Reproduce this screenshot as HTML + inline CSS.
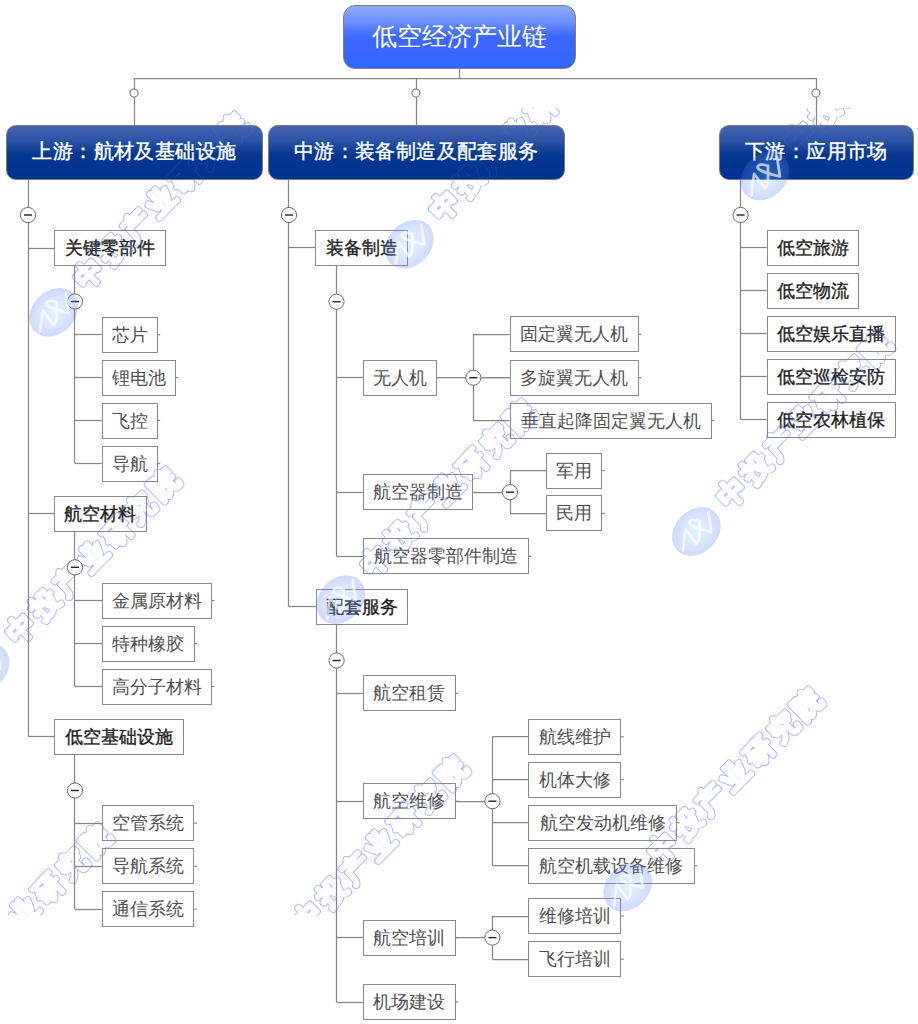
<!DOCTYPE html>
<html><head><meta charset="utf-8"><title>低空经济产业链</title>
<style>
html,body{margin:0;padding:0;background:#fff;}
body{width:918px;height:1024px;position:relative;overflow:hidden;font-family:"Liberation Serif",serif;}
svg{position:absolute;left:0;top:0;}
.bx{position:absolute;box-sizing:border-box;border:1px solid #8a8a8a;background:#fff;display:flex;align-items:center;justify-content:center;white-space:nowrap;font-size:18px;color:#505050;line-height:1;}
.bx.b,.bx.bc{color:#1e1e1e;-webkit-text-stroke:0.35px #1e1e1e;}
.l1{position:absolute;box-sizing:border-box;border:1px solid #7a7a7a;border-radius:10px;display:flex;align-items:center;justify-content:center;white-space:nowrap;color:#fff;font-size:20px;-webkit-text-stroke:0.4px #fff;line-height:1;letter-spacing:0.4px;padding:0 0 2px 0.4px;
background:linear-gradient(to bottom,#4466b0 0%,#2f55a8 25%,#06368f 55%,#003391 100%);}
.root{position:absolute;box-sizing:border-box;border:1.5px solid #7f7f7f;border-radius:12px;display:flex;align-items:center;justify-content:center;white-space:nowrap;color:#fff;font-size:25px;line-height:1;
background:linear-gradient(to bottom,#8eabff 0%,#6d8fff 25%,#3d67ff 50%,#3366ff 100%);}
</style></head><body>

<svg width="918" height="1024" viewBox="0 0 918 1024"><g stroke="#878787" stroke-width="1.25" fill="none"><path d="M134 78.5L816 78.5"/><path d="M459.5 68.5L459.5 78"/><path d="M134.5 78L134.5 125"/><path d="M416.5 78L416.5 125"/><path d="M816.5 78L816.5 125"/><path d="M28.5 179L28.5 736.6"/><path d="M28 248.5L54 248.5"/><path d="M74.5 266L74.5 463.5"/><path d="M75 334.5L101.7 334.5"/><path d="M75 377.5L101.7 377.5"/><path d="M75 420.5L101.7 420.5"/><path d="M75 463.5L101.7 463.5"/><path d="M28 513.5L54 513.5"/><path d="M74.5 531.7L74.5 686.5"/><path d="M75 600.5L102 600.5"/><path d="M75 643.5L102 643.5"/><path d="M75 686.5L102 686.5"/><path d="M28 736.5L54 736.5"/><path d="M74.5 754.7L74.5 909.2"/><path d="M75 823.5L101.8 823.5"/><path d="M75 866.5L101.8 866.5"/><path d="M75 909.5L101.8 909.5"/><path d="M288.5 179L288.5 606.7"/><path d="M289 247.5L315.3 247.5"/><path d="M336.5 265.8L336.5 556.3"/><path d="M336.5 377.5L363 377.5"/><path d="M436.5 377.5L509.6 377.5"/><path d="M473.5 334.4L473.5 420.6"/><path d="M473.3 334.5L509.6 334.5"/><path d="M473.3 377.5L509.6 377.5"/><path d="M473.3 420.5L509.6 420.5"/><path d="M336.5 492.5L363 492.5"/><path d="M473.4 492.5L510 492.5"/><path d="M510.5 470.5L510.5 513.4"/><path d="M510 470.5L546.3 470.5"/><path d="M510 513.5L546.3 513.5"/><path d="M336.5 556.5L363 556.5"/><path d="M289 606.5L315.6 606.5"/><path d="M336.5 624.7L336.5 1002"/><path d="M336.6 693.5L363 693.5"/><path d="M336.6 801.5L363 801.5"/><path d="M455.8 801.5L492.4 801.5"/><path d="M492.5 736.8L492.5 865.7"/><path d="M492.4 736.5L528.3 736.5"/><path d="M492.4 779.5L528.3 779.5"/><path d="M492.4 822.5L528.3 822.5"/><path d="M492.4 865.5L528.3 865.5"/><path d="M336.6 937.5L363 937.5"/><path d="M455.8 937.5L492.4 937.5"/><path d="M492.5 916L492.5 959.2"/><path d="M492.4 916.5L528.3 916.5"/><path d="M492.4 959.5L528.3 959.5"/><path d="M336.6 1002.5L363 1002.5"/><path d="M740.5 179L740.5 419.6"/><path d="M740.6 247.5L766.7 247.5"/><path d="M740.6 290.5L766.7 290.5"/><path d="M740.6 333.5L766.7 333.5"/><path d="M740.6 376.5L766.7 376.5"/><path d="M740.6 419.5L766.7 419.5"/><path d="M157.7 334.6h2.5"/><path d="M175.7 377.6h2.5"/><path d="M157.7 420.5h2.5"/><path d="M157.7 463.5h2.5"/><path d="M212 600.5h2.5"/><path d="M194.5 643.6h2.5"/><path d="M212 686.5h2.5"/><path d="M194.3 823.2h2.5"/><path d="M194.3 866.2h2.5"/><path d="M194.3 909.2h2.5"/><path d="M436.5 377.7h2.5"/><path d="M638.6 334.4h2.5"/><path d="M638.6 377.6h2.5"/><path d="M712.1 420.6h2.5"/><path d="M473.4 492.2h2.5"/><path d="M602.3 470.5h2.5"/><path d="M602.3 513.4h2.5"/><path d="M528.5 556.3h2.5"/><path d="M455.8 693.4h2.5"/><path d="M455.8 801.2h2.5"/><path d="M621.3 736.8h2.5"/><path d="M621.3 779.5h2.5"/><path d="M677 822.6h2.5"/><path d="M694.7 865.7h2.5"/><path d="M455.8 937.6h2.5"/><path d="M621.3 916h2.5"/><path d="M621.3 959.2h2.5"/><path d="M455.8 1002h2.5"/><circle cx="134" cy="93" r="4" fill="#fff"/><circle cx="416" cy="93" r="4" fill="#fff"/><circle cx="816" cy="93" r="4" fill="#fff"/></g></svg>
<div class="bx b" style="left:54px;top:230px;width:112px;height:36px">关键零部件</div>
<div class="bx n" style="left:101.7px;top:316.6px;width:56px;height:36px">芯片</div>
<div class="bx n" style="left:101.7px;top:359.6px;width:74px;height:36px">锂电池</div>
<div class="bx n" style="left:101.7px;top:402.5px;width:56px;height:36px">飞控</div>
<div class="bx n" style="left:101.7px;top:445.5px;width:56px;height:36px">导航</div>
<div class="bx b" style="left:54px;top:495.7px;width:92.5px;height:36px">航空材料</div>
<div class="bx n" style="left:102px;top:582.5px;width:110px;height:36px">金属原材料</div>
<div class="bx n" style="left:102px;top:625.6px;width:92.5px;height:36px">特种橡胶</div>
<div class="bx n" style="left:102px;top:668.5px;width:110px;height:36px">高分子材料</div>
<div class="bx b" style="left:54px;top:718.7px;width:129.7px;height:36px">低空基础设施</div>
<div class="bx n" style="left:101.8px;top:805.2px;width:92.5px;height:36px">空管系统</div>
<div class="bx n" style="left:101.8px;top:848.2px;width:92.5px;height:36px">导航系统</div>
<div class="bx n" style="left:101.8px;top:891.2px;width:92.5px;height:36px">通信系统</div>
<div class="bx b" style="left:315.3px;top:229.8px;width:92.8px;height:36px">装备制造</div>
<div class="bx n" style="left:363px;top:359.7px;width:73.5px;height:36px">无人机</div>
<div class="bx n" style="left:509.6px;top:316.4px;width:129px;height:36px">固定翼无人机</div>
<div class="bx n" style="left:509.6px;top:359.6px;width:129px;height:36px">多旋翼无人机</div>
<div class="bx n" style="left:509.6px;top:402.6px;width:202.5px;height:36px">垂直起降固定翼无人机</div>
<div class="bx n" style="left:363px;top:474.2px;width:110.4px;height:36px">航空器制造</div>
<div class="bx n" style="left:546.3px;top:452.5px;width:56px;height:36px">军用</div>
<div class="bx n" style="left:546.3px;top:495.4px;width:56px;height:36px">民用</div>
<div class="bx n" style="left:363px;top:538.3px;width:165.5px;height:36px">航空器零部件制造</div>
<div class="bx b" style="left:315.6px;top:588.7px;width:92.5px;height:36px">配套服务</div>
<div class="bx n" style="left:363px;top:675.4px;width:92.8px;height:36px">航空租赁</div>
<div class="bx n" style="left:363px;top:783.2px;width:92.8px;height:36px">航空维修</div>
<div class="bx n" style="left:528.3px;top:718.8px;width:93px;height:36px">航线维护</div>
<div class="bx n" style="left:528.3px;top:761.5px;width:93px;height:36px">机体大修</div>
<div class="bx n" style="left:528.3px;top:804.6px;width:148.7px;height:36px">航空发动机维修</div>
<div class="bx n" style="left:528.3px;top:847.7px;width:166.4px;height:36px">航空机载设备维修</div>
<div class="bx n" style="left:363px;top:919.6px;width:92.8px;height:36px">航空培训</div>
<div class="bx n" style="left:528.3px;top:898px;width:93px;height:36px">维修培训</div>
<div class="bx n" style="left:528.3px;top:941.2px;width:93px;height:36px">飞行培训</div>
<div class="bx n" style="left:363px;top:984px;width:92.8px;height:36px">机场建设</div>
<div class="bx bc" style="left:766.7px;top:229.6px;width:92.5px;height:36px">低空旅游</div>
<div class="bx bc" style="left:766.7px;top:272.7px;width:92.5px;height:36px">低空物流</div>
<div class="bx bc" style="left:766.7px;top:315.7px;width:129px;height:36px">低空娱乐直播</div>
<div class="bx bc" style="left:766.7px;top:358.7px;width:129px;height:36px">低空巡检安防</div>
<div class="bx bc" style="left:766.7px;top:401.6px;width:129px;height:36px">低空农林植保</div>
<svg width="918" height="1024" viewBox="0 0 918 1024"><defs><radialGradient id="lg" cx="50%" cy="50%" r="50%"><stop offset="0" stop-color="rgb(135,212,255)" stop-opacity="0.26"/><stop offset="0.6" stop-color="rgb(110,160,248)" stop-opacity="0.26"/><stop offset="1" stop-color="rgb(80,115,240)" stop-opacity="0.27"/></radialGradient><clipPath id="cp"><rect x="0" y="108" width="918" height="807.5"/></clipPath><mask id="wm" maskUnits="userSpaceOnUse" x="0" y="0" width="918" height="1024"><rect x="0" y="0" width="918" height="1024" fill="#000"/><g transform="translate(88.2 273.9) rotate(-45)" font-family="Liberation Sans" font-weight="bold" font-size="28" letter-spacing="5.9"><text x="-12.6" y="9.8" fill="#fff" stroke="#fff" stroke-width="5" stroke-linejoin="round">中投产业研究院</text><text x="-12.6" y="9.8" fill="#000" stroke="#000" stroke-width="3.4" stroke-linejoin="round">中投产业研究院</text></g><g transform="translate(443.85 205.7) rotate(-45)" font-family="Liberation Sans" font-weight="bold" font-size="28" letter-spacing="5.9"><text x="-12.6" y="9.8" fill="#fff" stroke="#fff" stroke-width="5" stroke-linejoin="round">中投产业研究院</text><text x="-12.6" y="9.8" fill="#000" stroke="#000" stroke-width="3.4" stroke-linejoin="round">中投产业研究院</text></g><g transform="translate(799.5 137.5) rotate(-45)" font-family="Liberation Sans" font-weight="bold" font-size="28" letter-spacing="5.9"><text x="-12.6" y="9.8" fill="#fff" stroke="#fff" stroke-width="5" stroke-linejoin="round">中投产业研究院</text><text x="-12.6" y="9.8" fill="#000" stroke="#000" stroke-width="3.4" stroke-linejoin="round">中投产业研究院</text></g><g transform="translate(19.6 629.4) rotate(-45)" font-family="Liberation Sans" font-weight="bold" font-size="28" letter-spacing="5.9"><text x="-12.6" y="9.8" fill="#fff" stroke="#fff" stroke-width="5" stroke-linejoin="round">中投产业研究院</text><text x="-12.6" y="9.8" fill="#000" stroke="#000" stroke-width="3.4" stroke-linejoin="round">中投产业研究院</text></g><g transform="translate(375.25 561.2) rotate(-45)" font-family="Liberation Sans" font-weight="bold" font-size="28" letter-spacing="5.9"><text x="-12.6" y="9.8" fill="#fff" stroke="#fff" stroke-width="5" stroke-linejoin="round">中投产业研究院</text><text x="-12.6" y="9.8" fill="#000" stroke="#000" stroke-width="3.4" stroke-linejoin="round">中投产业研究院</text></g><g transform="translate(730.9 493) rotate(-45)" font-family="Liberation Sans" font-weight="bold" font-size="28" letter-spacing="5.9"><text x="-12.6" y="9.8" fill="#fff" stroke="#fff" stroke-width="5" stroke-linejoin="round">中投产业研究院</text><text x="-12.6" y="9.8" fill="#000" stroke="#000" stroke-width="3.4" stroke-linejoin="round">中投产业研究院</text></g><g transform="translate(-49 984.9) rotate(-45)" font-family="Liberation Sans" font-weight="bold" font-size="28" letter-spacing="5.9"><text x="-12.6" y="9.8" fill="#fff" stroke="#fff" stroke-width="5" stroke-linejoin="round">中投产业研究院</text><text x="-12.6" y="9.8" fill="#000" stroke="#000" stroke-width="3.4" stroke-linejoin="round">中投产业研究院</text></g><g transform="translate(306.65 916.7) rotate(-45)" font-family="Liberation Sans" font-weight="bold" font-size="28" letter-spacing="5.9"><text x="-12.6" y="9.8" fill="#fff" stroke="#fff" stroke-width="5" stroke-linejoin="round">中投产业研究院</text><text x="-12.6" y="9.8" fill="#000" stroke="#000" stroke-width="3.4" stroke-linejoin="round">中投产业研究院</text></g><g transform="translate(662.3 848.5) rotate(-45)" font-family="Liberation Sans" font-weight="bold" font-size="28" letter-spacing="5.9"><text x="-12.6" y="9.8" fill="#fff" stroke="#fff" stroke-width="5" stroke-linejoin="round">中投产业研究院</text><text x="-12.6" y="9.8" fill="#000" stroke="#000" stroke-width="3.4" stroke-linejoin="round">中投产业研究院</text></g></mask></defs><rect x="0" y="0" width="918" height="1024" fill="rgb(100,120,240)" fill-opacity="0.44" mask="url(#wm)" clip-path="url(#cp)"/></svg>
<div class="root" style="left:343px;top:4.8px;width:233px;height:64px">低空经济产业链</div>
<div class="l1" style="left:6px;top:125px;width:256.5px;height:54.5px">上游：航材及基础设施</div>
<div class="l1" style="left:267.5px;top:125px;width:297px;height:54.5px">中游：装备制造及配套服务</div>
<div class="l1" style="left:718.5px;top:125px;width:195.5px;height:54.5px">下游：应用市场</div>
<svg width="918" height="1024" viewBox="0 0 918 1024"><circle cx="28" cy="215" r="7.6" fill="#fff" stroke="#6f6f6f" stroke-width="1"/><path d="M24 215h8" stroke="#222" stroke-width="1.4"/><circle cx="75" cy="301.5" r="7.6" fill="#fff" stroke="#6f6f6f" stroke-width="1"/><path d="M71 301.5h8" stroke="#222" stroke-width="1.4"/><circle cx="75" cy="567.3" r="7.6" fill="#fff" stroke="#6f6f6f" stroke-width="1"/><path d="M71 567.3h8" stroke="#222" stroke-width="1.4"/><circle cx="75" cy="790.5" r="7.6" fill="#fff" stroke="#6f6f6f" stroke-width="1"/><path d="M71 790.5h8" stroke="#222" stroke-width="1.4"/><circle cx="289" cy="215" r="7.6" fill="#fff" stroke="#6f6f6f" stroke-width="1"/><path d="M285 215h8" stroke="#222" stroke-width="1.4"/><circle cx="336.5" cy="301.7" r="7.6" fill="#fff" stroke="#6f6f6f" stroke-width="1"/><path d="M332.5 301.7h8" stroke="#222" stroke-width="1.4"/><circle cx="473.3" cy="377.7" r="7.6" fill="#fff" stroke="#6f6f6f" stroke-width="1"/><path d="M469.3 377.7h8" stroke="#222" stroke-width="1.4"/><circle cx="510" cy="492.2" r="7.6" fill="#fff" stroke="#6f6f6f" stroke-width="1"/><path d="M506 492.2h8" stroke="#222" stroke-width="1.4"/><circle cx="336.6" cy="660.5" r="7.6" fill="#fff" stroke="#6f6f6f" stroke-width="1"/><path d="M332.6 660.5h8" stroke="#222" stroke-width="1.4"/><circle cx="492.4" cy="801.2" r="7.6" fill="#fff" stroke="#6f6f6f" stroke-width="1"/><path d="M488.4 801.2h8" stroke="#222" stroke-width="1.4"/><circle cx="492.4" cy="937.6" r="7.6" fill="#fff" stroke="#6f6f6f" stroke-width="1"/><path d="M488.4 937.6h8" stroke="#222" stroke-width="1.4"/><circle cx="740.6" cy="215" r="7.6" fill="#fff" stroke="#6f6f6f" stroke-width="1"/><path d="M736.6 215h8" stroke="#222" stroke-width="1.4"/></svg>
<svg width="918" height="1024" viewBox="0 0 918 1024"><g clip-path="url(#cp)"><rect x="0" y="0" width="918" height="1024" fill="rgb(100,120,240)" fill-opacity="0.2" mask="url(#wm)"/><g transform="translate(53.7 312.4)"><ellipse cx="0" cy="0" rx="27" ry="21.3" transform="rotate(-45)" fill="url(#lg)"/><path d="M-13.5 19C-12.6 9.4 -12 4.3 -10.8 -2L0 12.4C1.8 10.6 3 7 3 3.5L3 -10.3M3 -9.7C-1.2 -12.7 -8.4 -11.5 -7.2 -7.9C-6 -4.9 3.6 -2.5 14.9 0.5L12 -19.3" fill="none" stroke="#fff" stroke-opacity="0.65" stroke-width="2.8" stroke-linecap="round" stroke-linejoin="round"/></g><g transform="translate(409.35 244.2)"><ellipse cx="0" cy="0" rx="27" ry="21.3" transform="rotate(-45)" fill="url(#lg)"/><path d="M-13.5 19C-12.6 9.4 -12 4.3 -10.8 -2L0 12.4C1.8 10.6 3 7 3 3.5L3 -10.3M3 -9.7C-1.2 -12.7 -8.4 -11.5 -7.2 -7.9C-6 -4.9 3.6 -2.5 14.9 0.5L12 -19.3" fill="none" stroke="#fff" stroke-opacity="0.65" stroke-width="2.8" stroke-linecap="round" stroke-linejoin="round"/></g><g transform="translate(765 176)"><ellipse cx="0" cy="0" rx="27" ry="21.3" transform="rotate(-45)" fill="url(#lg)"/><path d="M-13.5 19C-12.6 9.4 -12 4.3 -10.8 -2L0 12.4C1.8 10.6 3 7 3 3.5L3 -10.3M3 -9.7C-1.2 -12.7 -8.4 -11.5 -7.2 -7.9C-6 -4.9 3.6 -2.5 14.9 0.5L12 -19.3" fill="none" stroke="#fff" stroke-opacity="0.65" stroke-width="2.8" stroke-linecap="round" stroke-linejoin="round"/></g><g transform="translate(-14.9 667.9)"><ellipse cx="0" cy="0" rx="27" ry="21.3" transform="rotate(-45)" fill="url(#lg)"/><path d="M-13.5 19C-12.6 9.4 -12 4.3 -10.8 -2L0 12.4C1.8 10.6 3 7 3 3.5L3 -10.3M3 -9.7C-1.2 -12.7 -8.4 -11.5 -7.2 -7.9C-6 -4.9 3.6 -2.5 14.9 0.5L12 -19.3" fill="none" stroke="#fff" stroke-opacity="0.65" stroke-width="2.8" stroke-linecap="round" stroke-linejoin="round"/></g><g transform="translate(340.75 599.7)"><ellipse cx="0" cy="0" rx="27" ry="21.3" transform="rotate(-45)" fill="url(#lg)"/><path d="M-13.5 19C-12.6 9.4 -12 4.3 -10.8 -2L0 12.4C1.8 10.6 3 7 3 3.5L3 -10.3M3 -9.7C-1.2 -12.7 -8.4 -11.5 -7.2 -7.9C-6 -4.9 3.6 -2.5 14.9 0.5L12 -19.3" fill="none" stroke="#fff" stroke-opacity="0.65" stroke-width="2.8" stroke-linecap="round" stroke-linejoin="round"/></g><g transform="translate(696.4 531.5)"><ellipse cx="0" cy="0" rx="27" ry="21.3" transform="rotate(-45)" fill="url(#lg)"/><path d="M-13.5 19C-12.6 9.4 -12 4.3 -10.8 -2L0 12.4C1.8 10.6 3 7 3 3.5L3 -10.3M3 -9.7C-1.2 -12.7 -8.4 -11.5 -7.2 -7.9C-6 -4.9 3.6 -2.5 14.9 0.5L12 -19.3" fill="none" stroke="#fff" stroke-opacity="0.65" stroke-width="2.8" stroke-linecap="round" stroke-linejoin="round"/></g><g transform="translate(-83.5 1023.4)"><ellipse cx="0" cy="0" rx="27" ry="21.3" transform="rotate(-45)" fill="url(#lg)"/><path d="M-13.5 19C-12.6 9.4 -12 4.3 -10.8 -2L0 12.4C1.8 10.6 3 7 3 3.5L3 -10.3M3 -9.7C-1.2 -12.7 -8.4 -11.5 -7.2 -7.9C-6 -4.9 3.6 -2.5 14.9 0.5L12 -19.3" fill="none" stroke="#fff" stroke-opacity="0.65" stroke-width="2.8" stroke-linecap="round" stroke-linejoin="round"/></g><g transform="translate(272.15 955.2)"><ellipse cx="0" cy="0" rx="27" ry="21.3" transform="rotate(-45)" fill="url(#lg)"/><path d="M-13.5 19C-12.6 9.4 -12 4.3 -10.8 -2L0 12.4C1.8 10.6 3 7 3 3.5L3 -10.3M3 -9.7C-1.2 -12.7 -8.4 -11.5 -7.2 -7.9C-6 -4.9 3.6 -2.5 14.9 0.5L12 -19.3" fill="none" stroke="#fff" stroke-opacity="0.65" stroke-width="2.8" stroke-linecap="round" stroke-linejoin="round"/></g><g transform="translate(627.8 887)"><ellipse cx="0" cy="0" rx="27" ry="21.3" transform="rotate(-45)" fill="url(#lg)"/><path d="M-13.5 19C-12.6 9.4 -12 4.3 -10.8 -2L0 12.4C1.8 10.6 3 7 3 3.5L3 -10.3M3 -9.7C-1.2 -12.7 -8.4 -11.5 -7.2 -7.9C-6 -4.9 3.6 -2.5 14.9 0.5L12 -19.3" fill="none" stroke="#fff" stroke-opacity="0.65" stroke-width="2.8" stroke-linecap="round" stroke-linejoin="round"/></g></g></svg>
</body></html>
